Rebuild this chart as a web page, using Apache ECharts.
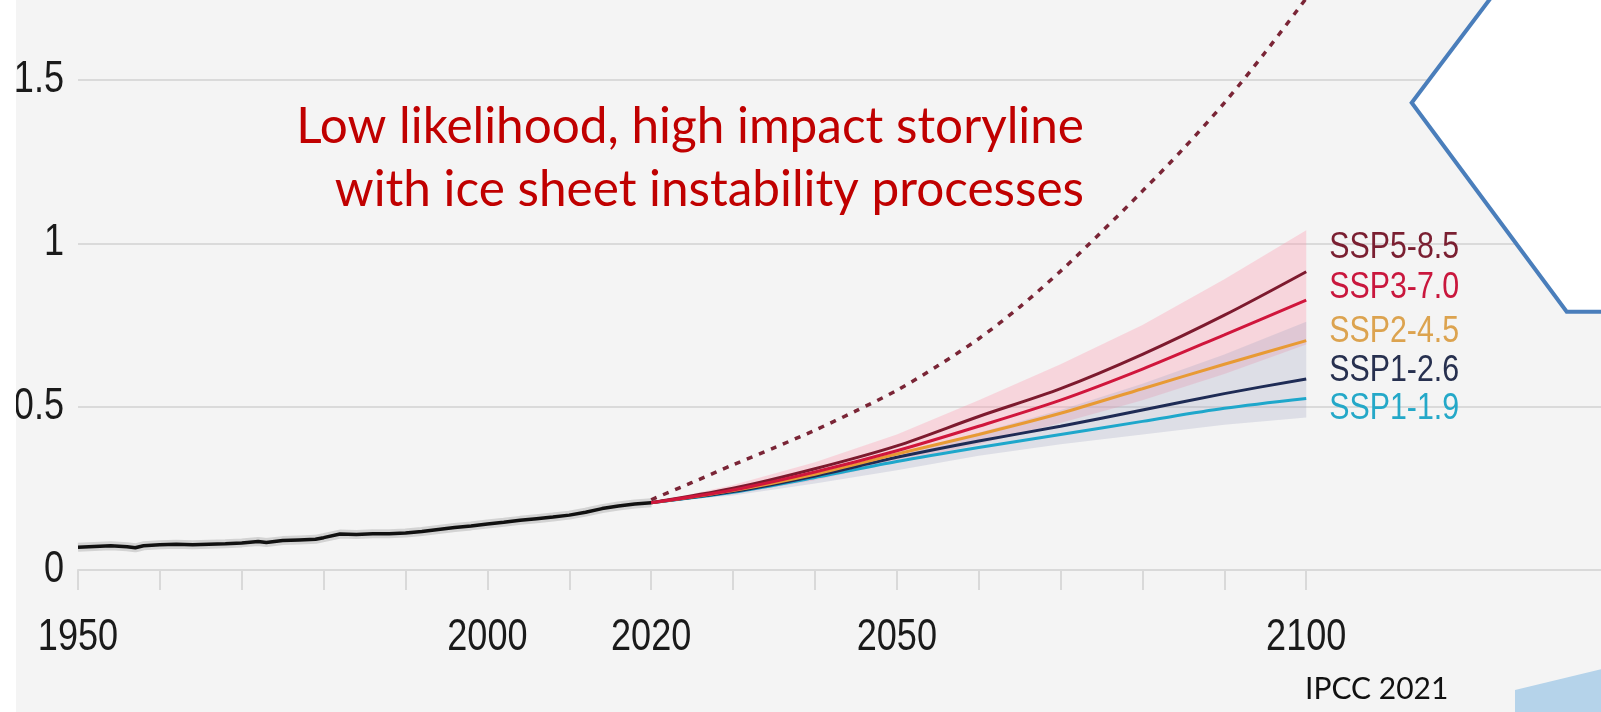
<!DOCTYPE html>
<html>
<head>
<meta charset="utf-8">
<script src="https://cdn.jsdelivr.net/npm/echarts@6/dist/echarts.min.js"></script>
<style>
  html, body { margin: 0; padding: 0; background: #ffffff; }
  #chart { width: 1601px; height: 712px; }
</style>
</head>
<body>
<div id="chart"></div>
<script>
// Global mean sea level change (m, relative to 1900)
const histYears = [1950,1952,1954,1956,1957,1958,1960,1962,1964,1966,1968,1970,1972,1973,1975,1977,1979,1980,1982,1984,1986,1988,1990,1992,1994,1996,1998,2000,2002,2004,2006,2008,2010,2012,2014,2016,2018,2020];
const histValues = [0.070,0.072,0.074,0.071,0.068,0.074,0.077,0.079,0.077,0.079,0.080,0.083,0.087,0.084,0.090,0.092,0.094,0.099,0.110,0.109,0.111,0.111,0.113,0.118,0.124,0.130,0.135,0.141,0.146,0.152,0.157,0.162,0.168,0.177,0.188,0.196,0.202,0.206];

const projYears = [2020,2030,2040,2050,2060,2070,2080,2090,2100];
const ssp585 = [0.206,0.250,0.310,0.380,0.470,0.555,0.660,0.780,0.913];
const ssp370 = [0.206,0.245,0.300,0.365,0.440,0.520,0.615,0.720,0.826];
const ssp245 = [0.206,0.243,0.293,0.355,0.415,0.480,0.555,0.630,0.702];
const ssp126 = [0.206,0.240,0.288,0.345,0.395,0.440,0.490,0.540,0.585];
const ssp119 = [0.206,0.238,0.283,0.332,0.375,0.415,0.455,0.495,0.525];

// likely ranges (upper and lower edges)
const highRangeUpper = [0.206,0.260,0.330,0.415,0.520,0.630,0.750,0.890,1.040];
const highRangeLower = [0.206,0.232,0.275,0.330,0.385,0.450,0.520,0.600,0.690];
const lowRangeUpper  = [0.206,0.245,0.295,0.350,0.420,0.490,0.570,0.660,0.760];
const lowRangeLower  = [0.206,0.228,0.265,0.305,0.350,0.385,0.415,0.445,0.467];

// low likelihood, high impact storyline
const storyYears  = [2020,2025,2030,2035,2040,2045,2050,2055,2060,2065,2070,2075,2080,2085,2090,2095,2100];
const storyValues = [0.215,0.268,0.322,0.374,0.428,0.487,0.550,0.625,0.708,0.805,0.915,1.035,1.160,1.290,1.430,1.585,1.750];

const tickYears   = [1950,1960,1970,1980,1990,2000,2010,2020,2030,2040,2050,2060,2070,2080,2090,2100];
const labelYears  = [1950,2000,2020,2050,2100];
const yTickValues = [0,0.5,1,1.5];
const scenarioNames = ['SSP5-8.5','SSP3-7.0','SSP2-4.5','SSP1-2.6','SSP1-1.9'];

const narrowFont = "'Liberation Sans', Arial, sans-serif";
const textFont = "Lato, 'Open Sans', sans-serif";

const pairs = (xs, ys) => xs.map((x, i) => [x, ys[i]]);

function band(name, lower, upper, fill) {
  return {
    type: 'custom', name: name, silent: true, z: 1,
    data: [[projYears[0], lower[0]]],
    renderItem: function (params, api) {
      const pts = [];
      for (let i = 0; i < projYears.length; i++) pts.push(api.coord([projYears[i], upper[i]]));
      for (let i = projYears.length - 1; i >= 0; i--) pts.push(api.coord([projYears[i], lower[i]]));
      return { type: 'polygon', shape: { points: pts }, style: { fill: fill } };
    }
  };
}

function scenario(name, values, color, z) {
  return {
    type: 'line', name: name, z: z,
    data: pairs(projYears, values),
    showSymbol: false, smooth: 0.3, silent: true,
    lineStyle: { color: color, width: 3 }
  };
}

const chart = echarts.init(document.getElementById('chart'));
chart.setOption({
  animation: false,
  backgroundColor: '#f4f4f4',
  grid: { left: 78, right: 0, top: -83.33, bottom: 142, outerBoundsMode: 'none', containLabel: false },
  xAxis: {
    type: 'value', min: 1950, max: 2136, interval: 10,
    axisLine: { show: true, onZero: false, lineStyle: { color: '#d9d9d9', width: 2 } },
    axisTick: { show: true, length: 20, customValues: tickYears, lineStyle: { color: '#d9d9d9', width: 2 } },
    axisLabel: { show: false },
    splitLine: { show: false }
  },
  yAxis: {
    type: 'value', min: 0, max: 2, interval: 0.5,
    axisLine: { show: false }, axisTick: { show: false },
    axisLabel: { show: false },
    splitLine: { show: true, lineStyle: { color: '#dadada', width: 2 } }
  },
  series: [
    band('high range', highRangeLower, highRangeUpper, 'rgba(255,150,170,0.32)'),
    band('low range', lowRangeLower, lowRangeUpper, 'rgba(160,165,195,0.28)'),
    {
      type: 'line', name: 'observed halo', z: 3, silent: true,
      data: pairs(histYears, histValues), showSymbol: false,
      lineStyle: { color: 'rgba(170,170,170,0.45)', width: 9 }
    },
    {
      type: 'line', name: 'observed', z: 4, silent: true,
      data: pairs(histYears, histValues), showSymbol: false,
      lineStyle: { color: '#111111', width: 3.5 }
    },
    {
      type: 'line', name: 'storyline', z: 5, silent: true,
      data: pairs(storyYears, storyValues), showSymbol: false, smooth: 0.3,
      lineStyle: { color: '#7a2536', width: 3.5, type: [6, 7] }
    },
    scenario(scenarioNames[4], ssp119, '#1ea7cb', 6),
    scenario(scenarioNames[3], ssp126, '#1e2b55', 7),
    scenario(scenarioNames[2], ssp245, '#e89a34', 8),
    scenario(scenarioNames[0], ssp585, '#7d1a2e', 9),
    scenario(scenarioNames[1], ssp370, '#d0163c', 10)
  ]
});

// Condensed tick and scenario labels, placed through the chart's own scales
const toPx = (x, y) => chart.convertToPixel({ gridIndex: 0 }, [x, y]);
const condensed = (x, y, text, size, color, align) => ({
  type: 'text', z: 102, x: x, y: y, scaleX: 0.82,
  style: { text: text, font: size + 'px ' + narrowFont, fill: color, align: align, verticalAlign: 'middle' }
});

const labels = [];
labelYears.forEach(yr => {
  const p = toPx(yr, 0);
  labels.push(condensed(p[0], p[1] + 68, String(yr), 44, '#1a1a1a', 'center'));
});
yTickValues.forEach(v => {
  const p = toPx(1950, v);
  labels.push(condensed(p[0] - 14, p[1], String(v), 44, '#1a1a1a', 'right'));
});

const scenarioEnds = [ssp585, ssp370, ssp245, ssp126, ssp119];
const scenarioLabelColors = ['#7a1f31', '#c9173d', '#dca34f', '#27304f', '#24a8c8'];
const scenarioLabelShift = [-24, -12, -9, -8, 10];
scenarioNames.forEach((name, i) => {
  const vals = scenarioEnds[i];
  const p = toPx(projYears[projYears.length - 1], vals[vals.length - 1]);
  labels.push(condensed(p[0] + 23, p[1] + scenarioLabelShift[i], name, 37, scenarioLabelColors[i], 'left'));
});

chart.setOption({
  graphic: [
    { type: 'polygon', z: 100, shape: { points: [[1490,0],[1411.7,102.7],[1566.7,311.7],[1601,311.7],[1601,0]] }, style: { fill: '#ffffff' } },
    { type: 'polyline', z: 101, shape: { points: [[1491.5,-3],[1411.7,102.7],[1566.7,311.7],[1605,311.7]] }, style: { stroke: '#4a7ebb', lineWidth: 4, fill: null } },
    { type: 'polygon', z: 100, shape: { points: [[1515,690],[1601,669.3],[1601,712],[1515,712]] }, style: { fill: '#b5d3ea' } },
    { type: 'text', z: 102, style: { x: 1305, y: 689, text: 'IPCC 2021', font: '30px ' + textFont, fill: '#111111', align: 'left', verticalAlign: 'middle' } },
    { type: 'text', z: 102, style: { x: 1084, y: 127, text: 'Low likelihood, high impact storyline', font: '49.5px ' + textFont, fill: '#c00000', align: 'right', verticalAlign: 'middle' } },
    { type: 'text', z: 102, style: { x: 1084, y: 190, text: 'with ice sheet instability processes', font: '49.5px ' + textFont, fill: '#c00000', align: 'right', verticalAlign: 'middle' } }
  ].concat(labels).concat([
    // white strip at the left edge, drawn last so labels are trimmed there
    { type: 'rect', z: 110, shape: { x: 0, y: 0, width: 16, height: 712 }, style: { fill: '#ffffff' } }
  ])
});
</script>
</body>
</html>
